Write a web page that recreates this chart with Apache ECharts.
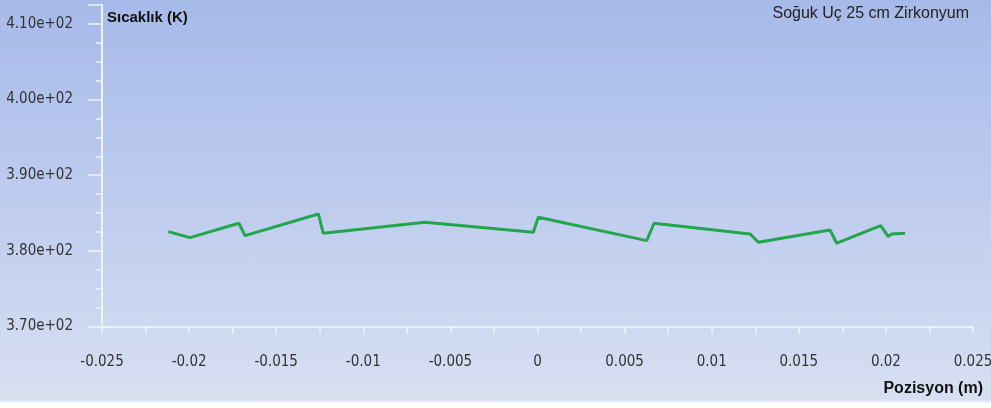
<!DOCTYPE html>
<html>
<head>
<meta charset="utf-8">
<script src="https://cdn.jsdelivr.net/npm/echarts@6/dist/echarts.min.js"></script>
<style>
html,body{margin:0;padding:0;background:#fff;}
#chart{width:991px;height:408px;background:linear-gradient(to bottom,#a6bae9 0%,#bccaee 45%,#d3dcf1 90%,#d8dff1 98%,#ffffff 99%);}
</style>
</head>
<body>
<div id="chart"></div>
<script>
// Data
const positions = [-0.02119, -0.01995, -0.01714, -0.01679, -0.01258, -0.01230, -0.00646, -0.00024, 0.00005, 0.00627, 0.00669, 0.01220, 0.01268, 0.01679, 0.01718, 0.01970, 0.02014, 0.02033, 0.02110];
const temperatures = [382.54, 381.75, 383.65, 382.01, 384.88, 382.33, 383.78, 382.46, 384.44, 381.35, 383.65, 382.24, 381.14, 382.76, 381.01, 383.33, 381.88, 382.24, 382.33];
const xTicks = [-0.025, -0.02, -0.015, -0.01, -0.005, 0, 0.005, 0.01, 0.015, 0.02, 0.025];
const yTicks = [370, 380, 390, 400, 410];
const yAxisTitle = 'Sıcaklık (K)';
const xAxisTitle = 'Pozisyon (m)';
const chartTitle = 'Soğuk Uç 25 cm Zirkonyum';

const chart = echarts.init(document.getElementById('chart'), null, {renderer: 'canvas'});
const axisColor = '#eef2fb';
const labelFont = "'DejaVu Sans Condensed', 'Liberation Sans Narrow', sans-serif";
const option = {
  backgroundColor: 'transparent',
  animation: false,
  grid: {left: 102, right: 18, top: 5, bottom: 81.5, containLabel: false, outerBoundsMode: 'none'},
  xAxis: {
    type: 'value',
    min: xTicks[0], max: xTicks[xTicks.length - 1], interval: 0.005,
    axisLine: {show: true, onZero: false, lineStyle: {color: axisColor, width: 2}},
    axisTick: {show: true, inside: false, length: 7, lineStyle: {color: axisColor, width: 1.5}},
    minorTick: {show: true, splitNumber: 2, length: 7, lineStyle: {color: axisColor, width: 1.5}},
    splitLine: {show: false},
    axisLabel: {
      margin: 28, fontSize: 15, color: '#333', fontFamily: labelFont,
      formatter: v => String(parseFloat(v.toFixed(3)))
    }
  },
  yAxis: {
    type: 'value',
    min: yTicks[0], max: 412.5, interval: 10,
    axisLine: {show: true, onZero: false, lineStyle: {color: axisColor, width: 2}},
    axisTick: {show: true, inside: false, length: 14, lineStyle: {color: axisColor, width: 1.5}},
    minorTick: {show: true, splitNumber: 4, length: 6, lineStyle: {color: axisColor, width: 1.5}},
    splitLine: {show: false},
    axisLabel: {
      margin: 29, fontSize: 15, color: '#333', fontFamily: labelFont, showMaxLabel: false,
      padding: [6, 0, 0, 0],
      formatter: v => (v / 100).toFixed(2) + 'e+02'
    }
  },
  graphic: [
    {type: 'text', left: 107, top: 10, style: {text: yAxisTitle, font: "bold 15px 'Liberation Sans', Arial, sans-serif", fill: '#111'}},
    {type: 'text', right: 22, top: 6, style: {text: chartTitle, font: "16px 'Liberation Sans', Arial, sans-serif", fill: '#222'}},
    {type: 'text', right: 8, top: 381, style: {text: xAxisTitle, font: "bold 16px 'Liberation Sans', Arial, sans-serif", fill: '#111'}}
  ],
  series: [{
    type: 'line',
    data: positions.map((x, i) => [x, temperatures[i]]),
    showSymbol: false,
    lineStyle: {color: '#21a64b', width: 3},
    itemStyle: {color: '#21a64b'}
  }]
};
chart.setOption(option);
</script>
</body>
</html>
